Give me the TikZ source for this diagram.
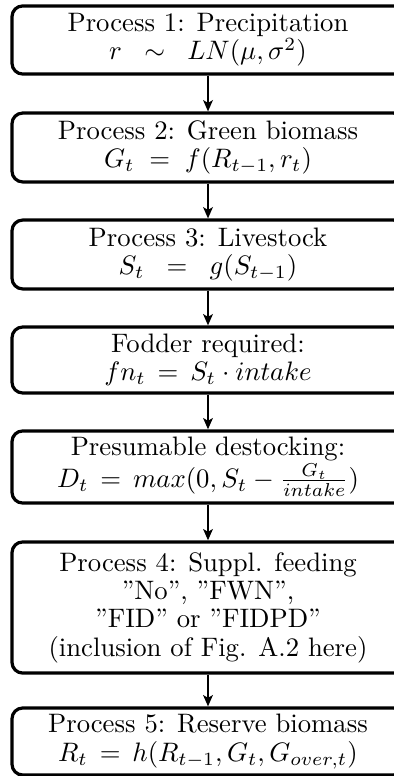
\documentclass[tikz,border=0pt]{standalone}
\usepackage{amsmath}
\usetikzlibrary{positioning,calc,arrows.meta}
\tikzset{
	procbox/.style={draw, very thick, rounded corners=4pt, align=center,
		minimum width=146.8pt, inner xsep=2pt, inner ysep=1.5pt,
		font=\fontsize{10}{10.6}\selectfont},
	flow/.style={thick, -{Stealth[length=4.2pt, width=3.6pt, inset=1pt]}}
}

\begin{document}
\begin{tikzpicture}[x=0.3745pt, y=0.3745pt]
	\useasboundingbox (0,0) rectangle (393,-776);
	\begin{scope}
		\node[procbox, minimum height=25.5pt] (p1) at (208, -40) {Process 1: Precipitation\\ $r \;\;\sim\;\; LN(\mu,\sigma^2)$};
		\node[procbox, minimum height=25.8pt] (p2) at (208, -147.5) {Process 2: Green biomass\\ $G_t \;=\; f(R_{t-1},r_t)$};
		\node[procbox, minimum height=25.8pt] (p3) at (208, -254.5) {Process 3: Livestock\\ $S_t \;\;=\;\; g(S_{t-1})$};
		\node[procbox, minimum height=24.7pt] (fodder) at (208, -360) {Fodder required:\\ $fn_t \,=\, S_t\cdot intake$};
		\node[procbox, minimum height=27pt] (destock) at (208, -467) {Presumable destocking:\\ $D_t \,=\, max(0,S_t-\frac{G_t}{intake})$};
		\node[procbox, minimum height=49.1pt] (p4) at (208, -607.5) {Process 4: Suppl. feeding\\ ''No'', ''FWN'',\\ ''FID'' or ''FIDPD''\\ (inclusion of Fig. A.2 here)};
		\node[procbox, minimum height=25.1pt] (p5) at (208, -741.5) {Process 5: Reserve biomass\\ $R_t \,=\, h(R_{t-1},G_t,G_{over,t})$};

		\draw[flow] (p1) -- (p2);
		\draw[flow] (p2) -- (p3);
		\draw[flow] (p3) -- (fodder);
		\draw[flow] (fodder) -- (destock);
		\draw[flow] (destock) -- (p4);
		\draw[flow] (p4) -- (p5);
	\end{scope}
\end{tikzpicture}
\end{document}
